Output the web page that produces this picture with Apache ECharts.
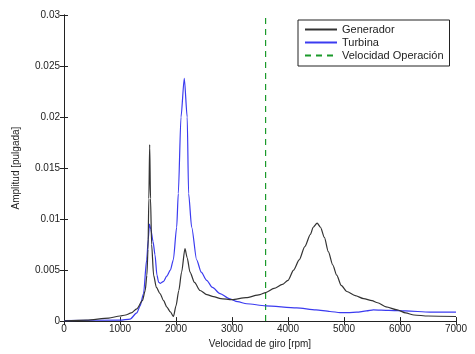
<!DOCTYPE html>
<html><head><meta charset="utf-8">
<script src="https://cdn.jsdelivr.net/npm/echarts@6/dist/echarts.min.js"></script>
<style>html,body{margin:0;padding:0;background:#fff}#c{width:475px;height:354px}</style>
</head><body><div id="c"></div>
<script>
const genRpm = [0,400,800,1000,1100,1200,1300,1400,1450,1480,1500,1515,1530,1545,1565,1600,1650,1714,1780,1833,1900,1955,2000,2050,2100,2160,2200,2250,2330,2430,2550,2670,2800,3000,3250,3500,3600,3750,3900,4000,4100,4200,4300,4400,4450,4520,4580,4650,4720,4800,4870,4950,5050,5200,5350,5500,5600,5750,5950,6100,6250,6500,7000];
const genAmp = [0.00002,0.0001,0.0003,0.0005,0.0006,0.0008,0.0012,0.002,0.003,0.0045,0.007,0.012,0.0173,0.012,0.0075,0.0045,0.0033,0.0027,0.002,0.0014,0.0009,0.00046,0.0015,0.003,0.0048,0.0071,0.0062,0.0048,0.0038,0.003,0.0026,0.0024,0.0022,0.0021,0.0023,0.0026,0.0028,0.0032,0.0036,0.004,0.005,0.006,0.0073,0.0085,0.0092,0.0096,0.0092,0.0082,0.0068,0.0055,0.0045,0.0035,0.0029,0.0025,0.0022,0.002,0.0018,0.0014,0.0011,0.0008,0.0006,0.0005,0.00045];
const turRpm = [0,1000,1180,1300,1360,1420,1476,1505,1525,1550,1590,1625,1660,1690,1720,1780,1833,1900,1952,2012,2041,2089,2148,2200,2225,2280,2369,2450,2548,2650,2786,2950,3100,3262,3600,4155,4500,4750,4930,5100,5226,5400,5524,5800,6100,6536,7000];
const turAmp = [0.00005,0.0001,0.0002,0.0008,0.0015,0.0027,0.006,0.008,0.0095,0.009,0.0078,0.0065,0.0045,0.0038,0.0037,0.0039,0.0044,0.005,0.006,0.0092,0.0125,0.02,0.0238,0.02,0.0125,0.0092,0.006,0.0048,0.004,0.0033,0.0027,0.0022,0.0019,0.0017,0.0015,0.0013,0.0011,0.00094,0.00084,0.00084,0.00087,0.001,0.0011,0.00105,0.001,0.00088,0.00087];
const opRpm = [3600,3600];
const opAmp = [0,0.03];
const xTicks = [0,1000,2000,3000,4000,5000,6000,7000];
const yTicks = [0,0.005,0.01,0.015,0.02,0.025,0.03];

const zip = (a,b)=>a.map((v,i)=>[v,b[i]]);
const chart = echarts.init(document.getElementById('c'));
const font = 'Liberation Sans, Arial, sans-serif';
const axCommon = {
  axisLine:{show:true,lineStyle:{color:'#222',width:1}},
  axisTick:{show:true,inside:true,length:4,lineStyle:{color:'#222'}},
  splitLine:{show:false}
};
chart.setOption({
  animation:false,
  backgroundColor:'#fff',
  grid:{left:64,right:19,top:15,bottom:31},
  legend:{
    orient:'vertical',left:298,top:20,width:153,
    backgroundColor:'#fff',borderColor:'#222',borderWidth:1,borderRadius:0,
    padding:[4,6,5,6],itemGap:2,itemWidth:32,itemHeight:10,
    itemStyle:{opacity:0},
    textStyle:{fontFamily:font,fontSize:11,color:'#222'},
    data:['Generador','Turbina','Velocidad Operación']
  },
  xAxis:[
    Object.assign({type:'value',min:0,max:7000,interval:1000,
      name:'Velocidad de giro [rpm]',nameLocation:'middle',nameGap:17,
      nameTextStyle:{fontFamily:font,fontSize:10,color:'#222'},
      axisLabel:{fontFamily:font,fontSize:10,color:'#222',margin:3,
        formatter:v=>xTicks.includes(v)?String(v):''}},axCommon),
    Object.assign({type:'value',min:0,max:7000,interval:1000,position:'top',axisLabel:{show:false}},axCommon)
  ],
  yAxis:[
    Object.assign({type:'value',min:0,max:0.03,interval:0.005,
      name:'Amplitud [pulgada]',nameLocation:'middle',nameGap:43,
      nameTextStyle:{fontFamily:font,fontSize:10,color:'#222'},
      axisLabel:{fontFamily:font,fontSize:10,color:'#222',margin:4,
        formatter:v=>{const t=yTicks.find(k=>Math.abs(k-v)<1e-9);return t===undefined?'':String(+t.toFixed(3));}}},axCommon),
    Object.assign({type:'value',min:0,max:0.03,interval:0.005,position:'right',axisLabel:{show:false}},axCommon)
  ],
  series:[
    {name:'Generador',type:'line',symbol:'none',data:zip(genRpm,genAmp),smooth:0.25,smoothMonotone:'x',
      lineStyle:{color:'#333',width:1.2},itemStyle:{color:'#333'},z:3},
    {name:'Turbina',type:'line',symbol:'none',data:zip(turRpm,turAmp),smooth:0.25,smoothMonotone:'x',
      lineStyle:{color:'#3b3bf0',width:1.2},itemStyle:{color:'#3b3bf0'},z:2},
    {name:'Velocidad Operación',type:'line',symbol:'none',data:zip(opRpm,opAmp),
      lineStyle:{color:'#1a9a2a',width:1.2,type:[6,5]},itemStyle:{color:'#1a9a2a'},z:1}
  ]
});
</script></body></html>
